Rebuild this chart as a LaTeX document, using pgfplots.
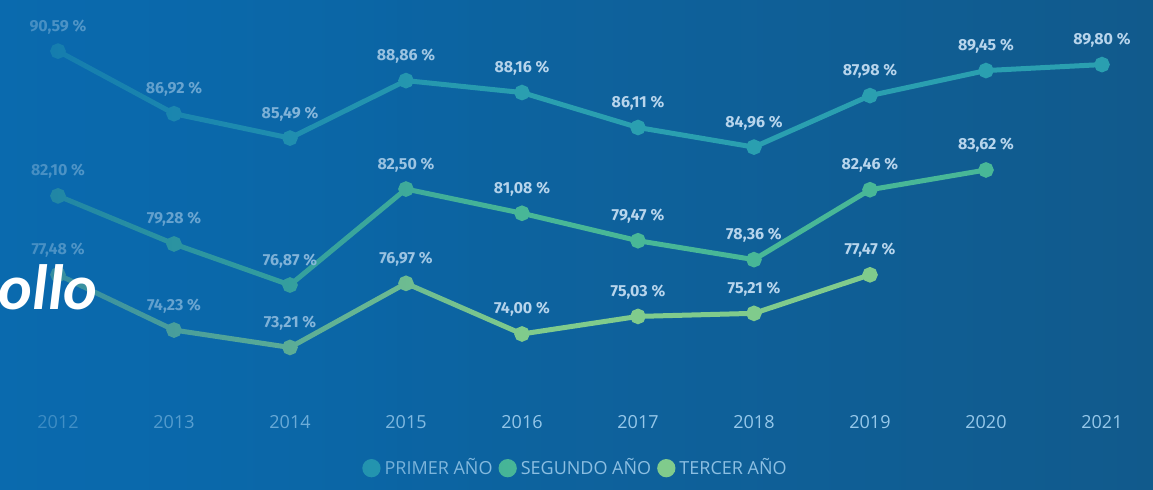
\documentclass[border=0pt]{standalone}
\usepackage{pgfplots}
\pgfplotsset{compat=1.18}
\usetikzlibrary{fadings}
\usepackage{fontspec}
\setmainfont{Open Sans}
\newfontfamily\labfont{Fira Sans}
\newfontfamily\titfont{Carlito}

\definecolor{bgleft}{HTML}{0A6AAE}
\definecolor{bgright}{HTML}{115A8C}
\definecolor{primer}{HTML}{2A9FB0}
\definecolor{segundo}{HTML}{48B797}
\definecolor{tercer}{HTML}{80CB8C}
\definecolor{labcol}{HTML}{B8D5EC}
\definecolor{tickcol}{HTML}{96C8EA}
\definecolor{legcol}{HTML}{8CBFE2}

\tikzfading[name=fadeleft, left color=transparent!30, right color=transparent!100]

\begin{document}
\begin{tikzpicture}[x=1pt,y=1pt]
\useasboundingbox (0,0) rectangle (576.5,245);
\shade[left color=bgleft, right color=bgright] (0,0) rectangle (576.5,245);
\begin{axis}[
  at={(0,51.5)}, anchor=south west,
  scale only axis, width=576.5pt, height=200pt,
  xmin=2011.5, xmax=2021.44, ymin=70, ymax=93.46,
  axis line style={draw=none}, clip=false,
  ytick=\empty,
  xtick={2012,2013,2014,2015,2016,2017,2018,2019,2020,2021},
  xticklabels={2012,2013,2014,2015,2016,2017,2018,2019,2020,2021},
  major tick length=0pt,
  xticklabel style={anchor=center, yshift=-10pt, text=tickcol, font=\fontsize{9}{10}\selectfont},
  point meta=y,
  nodes near coords={\pgfmathprintnumber[fixed, fixed zerofill, precision=2, use comma, assume math mode=true]{\pgfplotspointmeta}~\%},
  every node near coord/.append style={anchor=base, inner sep=0pt, yshift=10pt,
     text=labcol, font=\labfont\bfseries\fontsize{8}{9}\selectfont},
  every axis plot/.append style={mark=*, mark size=2.6pt, line width=2.5pt},
  legend style={at={(0.5,-0.165)}, anchor=center, draw=none, fill=none,
     text=legcol, font=\fontsize{9}{10}\selectfont,
     /tikz/every even column/.append style={column sep=1pt}},
  legend columns=3,
  legend image code/.code={\fill[#1] (0pt,0pt) circle (3.3pt);},
]
\addplot[color=primer] coordinates {(2012,90.59)(2013,86.92)(2014,85.49)(2015,88.86)(2016,88.16)(2017,86.11)(2018,84.96)(2019,87.98)(2020,89.45)(2021,89.80)};
\addlegendentry{PRIMER AÑO}
\addplot[color=segundo] coordinates {(2012,82.10)(2013,79.28)(2014,76.87)(2015,82.50)(2016,81.08)(2017,79.47)(2018,78.36)(2019,82.46)(2020,83.62)};
\addlegendentry{SEGUNDO AÑO}
\addplot[color=tercer] coordinates {(2012,77.48)(2013,74.23)(2014,73.21)(2015,76.97)(2016,74.00)(2017,75.03)(2018,75.21)(2019,77.47)};
\addlegendentry{TERCER AÑO}
\end{axis}
\fill[bgleft, path fading=fadeleft] (0,0) rectangle (260,245);
\node[anchor=base east, inner sep=0pt, text=white, font=\titfont\bfseries\itshape\fontsize{32}{34}\selectfont] at (49,90) {ollo};
\end{tikzpicture}
\end{document}
